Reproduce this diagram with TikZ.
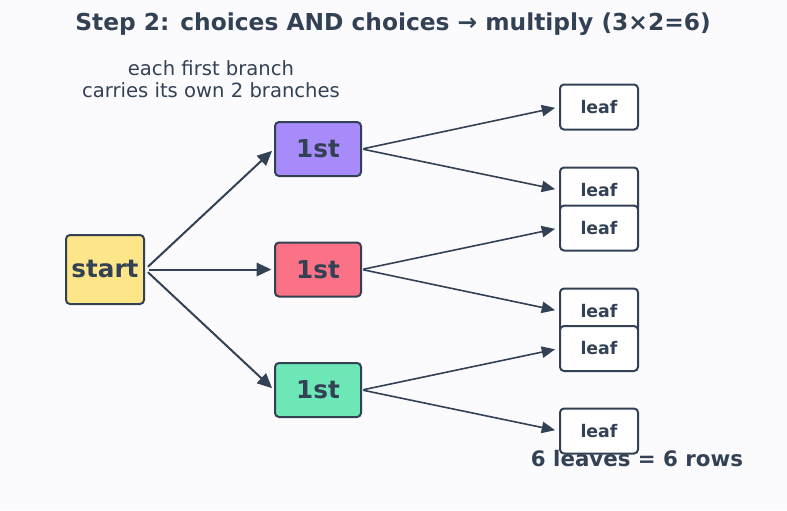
\documentclass[tikz,border=0pt]{standalone}
\usepackage{fontspec}
\setmainfont{DejaVu Sans}
\usetikzlibrary{arrows.meta}
\definecolor{ink}{HTML}{334155}
\definecolor{bg}{HTML}{FBFBFE}
\definecolor{cpurple}{HTML}{A78BFA}
\definecolor{cred}{HTML}{FB7185}
\definecolor{cgreen}{HTML}{6EE7B7}
\definecolor{cyellow}{HTML}{FDE68A}
\tikzset{
  box/.style={draw=ink, line width=1.5pt, rounded corners=3pt, inner sep=0pt, text=ink, font=\bfseries\fontsize{18.5}{21}\selectfont},
  startbox/.style={box, fill=cyellow, minimum width=58.5pt, minimum height=51.75pt},
  firstbox/.style={box, minimum width=64.5pt, minimum height=40.5pt},
  leafbox/.style={box, fill=white, minimum width=58.5pt, minimum height=33.75pt, font=\bfseries\fontsize{13}{15}\selectfont},
  bigarrow/.style={draw=ink, line width=1.5pt, -{Triangle[length=11pt,width=10pt]}, shorten <=3pt, shorten >=2pt},
  smallarrow/.style={draw=ink, line width=1.2pt, -{Triangle[length=10pt,width=8.5pt]}, shorten <=1pt, shorten >=3pt},
  label/.style={text=ink, inner sep=0pt}
}
\begin{document}
\begin{tikzpicture}[x=0.75pt, y=-0.75pt]
\fill[bg] (0,0) rectangle (787,510);
\useasboundingbox (0,0) rectangle (787,510);
\node[label, font=\bfseries\fontsize{17.5}{20}\selectfont] (title) at (393,24) {Step 2: choices AND choices → multiply (3×2=6)};
\node[label, font=\fontsize{14.7}{16.5}\selectfont, align=center] (sub) at (211,79) {each first branch\\carries its own 2 branches};
\node[startbox] (start) at (105,269.5) {start};
\node[firstbox, fill=cpurple] (p1) at (318,149) {1st};
\node[firstbox, fill=cred] (p2) at (318,269.5) {1st};
\node[firstbox, fill=cgreen] (p3) at (318,390) {1st};
\node[leafbox] (l1) at (599,107) {leaf};
\node[leafbox] (l2) at (599,190) {leaf};
\node[leafbox] (l3) at (599,228) {leaf};
\node[leafbox] (l4) at (599,311) {leaf};
\node[leafbox] (l5) at (599,348.5) {leaf};
\node[leafbox] (l6) at (599,431) {leaf};
\draw[bigarrow] (start.east) -- (p1.west);
\draw[bigarrow] (start.east) -- (p2.west);
\draw[bigarrow] (start.east) -- (p3.west);
\draw[smallarrow] (p1.east) -- (l1.west);
\draw[smallarrow] (p1.east) -- (l2.west);
\draw[smallarrow] (p2.east) -- (l3.west);
\draw[smallarrow] (p2.east) -- (l4.west);
\draw[smallarrow] (p3.east) -- (l5.west);
\draw[smallarrow] (p3.east) -- (l6.west);
\node[label, font=\bfseries\fontsize{16}{18}\selectfont] (count) at (637,459) {6 leaves = 6 rows};
\end{tikzpicture}
\end{document}
